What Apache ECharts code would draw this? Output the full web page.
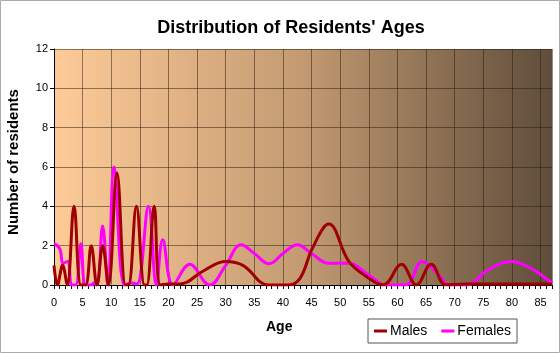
<!DOCTYPE html>
<html>
<head>
<meta charset="utf-8">
<script src="https://cdn.jsdelivr.net/npm/echarts@6/dist/echarts.min.js"></script>
<style>
  html, body { margin: 0; padding: 0; background: #fff; }
  #chart { width: 560px; height: 353px; }
</style>
</head>
<body>
<div id="chart"></div>
<script>
// values, [age, residents]
var males = [
  [0, 1.0], [0.6, 0], [1.5, 1.0], [2.3, 0], [3.5, 4], [4.7, 0], [5.5, 0],
  [6.5, 2], [7.5, 0], [8.5, 2], [9.5, 0], [11, 5.7], [12.5, 0], [13, 0],
  [14.4, 4], [15.8, 0], [16.2, 0], [17.5, 4], [18.6, 0], [20, 0.05], [22, 0.05],
  [26, 0.7], [30, 1.2], [33, 1.0], [37.5, 0], [41, 0], [43, 0.35], [45.2, 1.9],
  [48, 3.1], [51.5, 1.2], [54.5, 0.45], [57.5, 0], [60.7, 1.05], [63.3, 0],
  [65.9, 1.05], [68.5, 0], [72, 0.05], [87, 0.05]
];
var females = [
  [0, 2.1], [1, 1.85], [1.6, 1.1], [2.4, 1.2], [3.1, 0], [3.8, 0], [4.7, 2.1],
  [5.5, 0], [6.5, 0], [7, 0.1], [7.5, 0], [8.5, 3], [9.4, 0], [10.5, 6],
  [12.3, 0], [13.5, 0.1], [14.5, 0.05], [16.5, 4], [17.9, 0], [19, 2.3],
  [20.8, 0], [23.7, 1.05], [27.2, 0], [30, 1.0], [32.7, 2.05], [35, 1.6],
  [37.6, 1.08], [40, 1.6], [42.5, 2.05], [45, 1.6], [48, 1.1], [51.5, 1.1],
  [55, 0.5], [58, 0], [61.5, 0], [64.3, 1.2], [67, 0.6], [69, 0], [72, 0],
  [76, 0.8], [80, 1.2], [83, 0.9], [87, 0.1]
];
var seriesNames = ['Males', 'Females'];

var myChart = echarts.init(document.getElementById('chart'));
var option = {
    backgroundColor: '#fff',
    textStyle: {
        fontFamily: 'Liberation Sans'
    },
    title: {
        text: "Distribution of Residents' Ages",
        left: 286,
        textAlign: 'center',
        top: 14,
        textStyle: {
            fontSize: 18,
            fontWeight: 'bold',
            color: '#000'
        }
    },
    legend: {
        data: seriesNames,
        left: 368,
        top: 319,
        width: 153,
        height: 24,
        padding: [5, 6],
        itemGap: 14,
        itemWidth: 13,
        itemHeight: 3,
        borderColor: '#555',
        borderWidth: 1,
        icon: 'rect',
        textStyle: {
            fontSize: 14,
            color: '#000',
            padding: [0, 0, 0, -2]
        }
    },
    graphic: [
        {
            type: 'text',
            left: 266,
            top: 320,
            style: {
                text: 'Age',
                font: 'bold 14px Liberation Sans',
                fill: '#000',
                textAlign: 'center'
            }
        },
        {
            type: 'text',
            x: 14,
            y: 162,
            rotation: Math.PI / 2,
            style: {
                text: 'Number of residents',
                font: 'bold 15px Liberation Sans',
                fill: '#000',
                textAlign: 'center',
                textVerticalAlign: 'middle'
            }
        },
        {
            type: 'rect',
            shape: { x: 0.5, y: 0.5, width: 559, height: 352 },
            style: { fill: 'none', stroke: '#aaa', lineWidth: 1 }
        }
    ],
    grid: {
        left: 54,
        right: 8,
        top: 49,
        bottom: 68,
        show: true,
        borderWidth: 0,
        backgroundColor: {
            type: 'linear',
            x: 0, y: 0, x2: 1, y2: 0,
            colorStops: [
                { offset: 0, color: '#fecb98' },
                { offset: 0.5, color: '#c39a72' },
                { offset: 1, color: '#5f4d3b' }
            ]
        }
    },
    xAxis: {
        type: 'value',
        min: 0,
        max: 87,
        interval: 5,
        axisLine: { show: true, lineStyle: { color: '#000', width: 1 } },
        axisTick: { show: true, length: 4, lineStyle: { color: '#000' } },
        minorTick: { show: true, splitNumber: 5, length: 4, lineStyle: { color: '#000' } },
        axisLabel: {
            showMaxLabel: false,
            margin: 12,
            fontSize: 11,
            color: '#000'
        },
        splitLine: { show: true, lineStyle: { color: 'rgba(40,25,10,0.5)', width: 1 } }
    },
    yAxis: {
        type: 'value',
        min: 0,
        max: 12,
        interval: 2,
        axisLine: { show: true, lineStyle: { color: '#000', width: 1 } },
        axisTick: { show: true, length: 4, lineStyle: { color: '#000' } },
        axisLabel: { margin: 6, fontSize: 11, color: '#000' },
        splitLine: { show: true, lineStyle: { color: 'rgba(40,25,10,0.5)', width: 1 } }
    },
    series: [
        {
            name: 'Males',
            type: 'line',
            data: males,
            smooth: 0.4,
            symbol: 'none',
            color: '#a00000',
            lineStyle: { width: 3, color: '#a00000' },
            z: 3
        },
        {
            name: 'Females',
            type: 'line',
            data: females,
            smooth: 0.4,
            symbol: 'none',
            color: '#ff00ff',
            lineStyle: { width: 3, color: '#ff00ff' },
            z: 2
        }
    ]
};
myChart.setOption(option);
</script>
</body>
</html>
